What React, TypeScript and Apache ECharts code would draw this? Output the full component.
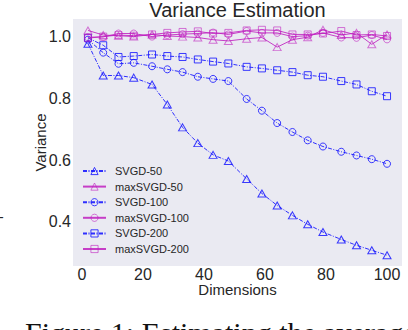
import React, { useEffect, useRef } from "react";
import * as echarts from "echarts";

const dims = [2, 7, 12, 17, 23, 28, 33, 38, 43, 48, 54, 59, 64, 69, 74, 79, 85, 90, 95, 100];
const svgd50 = [0.977, 0.874, 0.874, 0.867, 0.845, 0.78, 0.706, 0.655, 0.617, 0.597, 0.539, 0.492, 0.453, 0.421, 0.392, 0.367, 0.343, 0.324, 0.308, 0.292];
const maxSvgd50 = [1.02, 1.005, 1.003, 1.0, 1.007, 1.002, 1.0, 0.997, 0.99, 0.986, 0.993, 0.997, 0.966, 0.99, 0.998, 1.022, 1.005, 1.012, 0.975, 1.007];
const svgd100 = [0.99, 0.948, 0.912, 0.915, 0.904, 0.894, 0.885, 0.87, 0.863, 0.856, 0.798, 0.76, 0.72, 0.691, 0.664, 0.644, 0.627, 0.615, 0.603, 0.588];
const maxSvgd100 = [0.998, 0.999, 1.01, 1.01, 1.0, 1.005, 1.008, 1.01, 1.013, 1.007, 1.018, 1.012, 1.012, 1.0, 1.003, 1.012, 0.997, 0.996, 1.005, 0.991];
const svgd200 = [0.996, 0.972, 0.934, 0.937, 0.942, 0.937, 0.934, 0.926, 0.919, 0.913, 0.902, 0.897, 0.891, 0.885, 0.875, 0.87, 0.856, 0.845, 0.823, 0.807];
const maxSvgd200 = [0.995, 1.0, 1.005, 1.003, 1.007, 1.012, 1.015, 1.017, 1.01, 1.012, 1.02, 1.022, 1.02, 1.007, 1.007, 1.01, 1.018, 1.005, 1.007, 1.002];
const xTicks = [0, 20, 40, 60, 80, 100];
const yTicks = [0.4, 0.6, 0.8, 1.0];

const BLUE = "#1a1aff";
const MAG = "#c020c0";

function mk(name: string, vals: number[], symbol: string, isMax: boolean, size: number | number[]) {
  const c = isMax ? MAG : BLUE;
  return {
    type: "line",
    name,
    color: c,
    data: dims.map((d, i) => [d, vals[i]]),
    symbol,
    symbolSize: size,
    showAllSymbol: true,
    z: isMax ? 3 : 2,
    lineStyle: isMax
      ? { color: c, width: 1, type: "solid", opacity: 0.85 }
      : { color: c, width: 1, type: [4, 1.5, 1, 1.5], opacity: 0.9 },
    itemStyle: { color: "rgba(0,0,0,0)", borderColor: c, borderWidth: 1, opacity: isMax ? 0.6 : 0.85 },
  };
}

export default function App() {
  const ref = useRef<HTMLDivElement>(null);
  useEffect(() => {
    const chart = echarts.init(ref.current!, null, { renderer: "svg" });
    chart.setOption({
      animation: false,
      backgroundColor: "#ffffff",
      textStyle: { fontFamily: "Liberation Sans, Arial, sans-serif" },
      title: {
        text: "Variance Estimation",
        left: 237.5,
        textAlign: "center",
        top: 1,
        padding: 0,
        textStyle: { fontSize: 20, lineHeight: 18, fontWeight: "normal", color: "#262626", fontFamily: "Liberation Sans, Arial, sans-serif" },
      },
      grid: { left: 73, top: 19, width: 329, height: 247, show: true, backgroundColor: "#EAEAF2", borderWidth: 0 },
      xAxis: {
        type: "value",
        min: -2.9,
        max: 104.9,
        name: "Dimensions",
        nameLocation: "middle",
        nameGap: 16,
        nameMoveOverlap: false,
        nameTextStyle: { fontSize: 15, color: "#262626" },
        axisLine: { show: false },
        axisTick: { show: false },
        splitLine: { show: false },
        axisLabel: { customValues: xTicks, fontSize: 16, color: "#262626", margin: 0 },
      },
      yAxis: {
        type: "value",
        min: 0.257,
        max: 1.057,
        name: "Variance",
        nameLocation: "middle",
        nameGap: 25,
        nameMoveOverlap: false,
        nameTextStyle: { fontSize: 15, color: "#262626" },
        axisLine: { show: false },
        axisTick: { show: false },
        splitLine: { show: false },
        axisLabel: { customValues: yTicks, fontSize: 16, color: "#262626", margin: 2, formatter: (v: number) => v.toFixed(1) },
      },
      legend: {
        orient: "vertical",
        left: 77,
        top: 160,
        itemWidth: 23,
        itemHeight: 9,
        itemGap: 3.6,
        itemStyle: { color: "rgba(0,0,0,0)", borderWidth: 1 },
        textStyle: { fontSize: 11, color: "#262626", lineHeight: 12, padding: [0, 0, 0, 4] },
        data: ["SVGD-50", "maxSVGD-50", "SVGD-100", "maxSVGD-100", "SVGD-200", "maxSVGD-200"],
      },
      graphic: [
        {
          type: "text",
          left: 25,
          top: 317,
          style: { text: "Figure 1: Estimating the average", font: "30px 'Liberation Serif', 'Times New Roman', serif", fill: "#111" },
        },
        {
          type: "text",
          left: -1,
          top: 210,
          style: { text: "-", font: "14px 'Liberation Sans', sans-serif", fill: "#262626" },
        },
      ],
      series: [
        mk("SVGD-50", svgd50, "triangle", false, [8, 7]),
        mk("maxSVGD-50", maxSvgd50, "triangle", true, [8, 7]),
        mk("SVGD-100", svgd100, "circle", false, 7),
        mk("maxSVGD-100", maxSvgd100, "circle", true, 7),
        mk("SVGD-200", svgd200, "rect", false, 7),
        mk("maxSVGD-200", maxSvgd200, "rect", true, 7),
      ],
    });
    return () => chart.dispose();
  }, []);
  return <div ref={ref} style={{ width: 408, height: 330, position: "absolute", left: 0, top: 0 }} />;
}
